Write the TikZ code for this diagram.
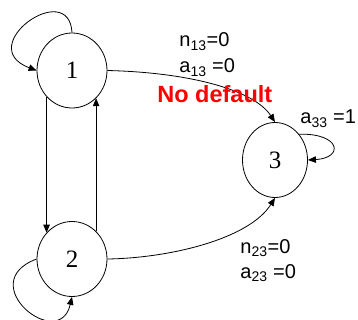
\documentclass[tikz,border=0pt]{standalone}
\usepackage{fontspec}
\setmainfont{Liberation Serif}
\newfontfamily\lblfont{Liberation Sans}
\usetikzlibrary{arrows.meta,shapes.geometric}

\begin{document}
\begin{tikzpicture}[x=1pt,y=1pt,
  line width=0.8pt,
  st/.style={draw, ellipse, minimum width=70pt, minimum height=75pt,
             inner sep=0pt, font=\fontsize{25}{30}\selectfont},
  lab/.style={anchor=base west, inner sep=0pt,
              font=\lblfont\fontsize{20}{24}\selectfont},
  >={Triangle[length=8pt,width=6.5pt]}]
  \useasboundingbox (0,0) rectangle (358,-320);
  % states
  \node[st] (n1) at (72,-70.5) {1};
  \node[st] (n2) at (72,-259) {2};
  \node[st,minimum width=65pt] (n3) at (275,-160) {3};
  % transitions
  \draw[->] (n1.226) -- (n2.134);
  \draw[->] (n2.49) -- (n1.311);
  \draw[->] (n1.east) .. controls +(83,-2) and +(-21,32) .. (n3.north);
  \draw[->] (n2.east) .. controls +(63,1) and +(-26,-41) .. (n3.south);
  \draw[->] (n1.north) .. controls +(-3,55) and +(-64,24) .. (n1.west);
  \draw[->] (n2.west) .. controls +(-64,-24) and +(-13,-56) .. (n2.south);
  \draw[->] (n3.47) .. controls +(42,1) and +(36,2) .. (n3.east);
  % labels
  \node[lab] (n13) at (179,-47) {n\textsubscript{13}=0};
  \node[lab] (a13) at (179,-73) {a\textsubscript{13} =0};
  \node[lab,text=red,font=\lblfont\bfseries\fontsize{23.5}{28}\selectfont]
    (nodef) at (157,-103) {No default};
  \node[lab] (a33) at (300,-124) {a\textsubscript{33} =1};
  \node[lab] (n23) at (240,-253) {n\textsubscript{23}=0};
  \node[lab] (a23) at (240,-278) {a\textsubscript{23} =0};
\end{tikzpicture}
\end{document}
